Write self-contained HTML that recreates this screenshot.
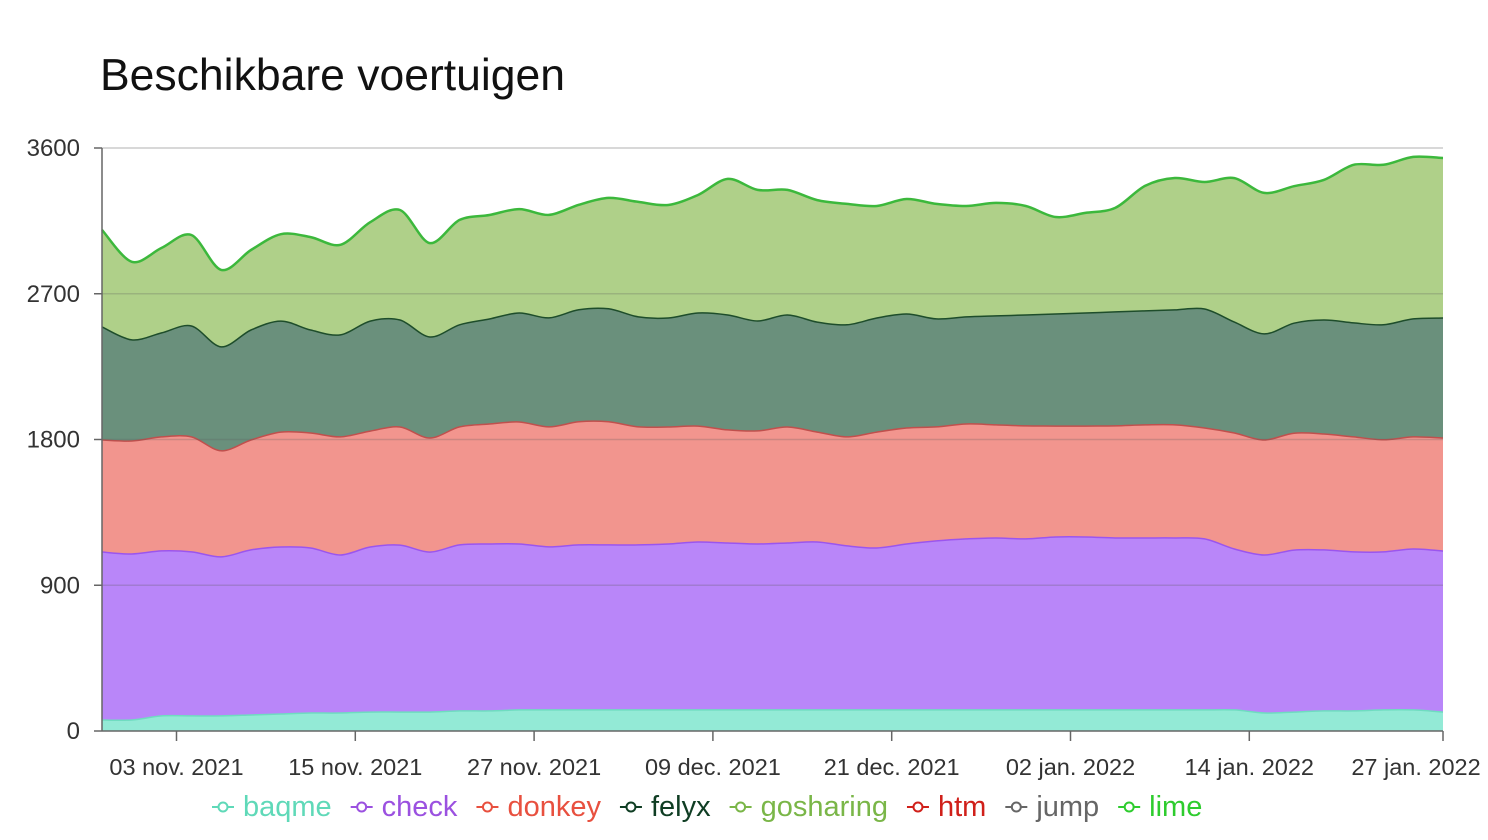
<!DOCTYPE html>
<html><head><meta charset="utf-8"><style>
body{margin:0;background:#fff;font-family:"Liberation Sans",sans-serif}
</style></head><body>
<svg id="chart" width="1488" height="835" viewBox="0 0 1488 835" xmlns="http://www.w3.org/2000/svg" font-family="Liberation Sans, sans-serif">
<text x="100" y="90" font-size="44.5" fill="#111">Beschikbare voertuigen</text>
<g id="areas"></g>
<g id="grid"></g>
<g id="axes"></g>
<g id="legend"></g>
</svg>
<script>
const seriesNames = ["baqme","check","donkey","felyx","gosharing","htm","jump","lime"];
const dayLabels = ["03 nov. 2021","15 nov. 2021","27 nov. 2021","09 dec. 2021","21 dec. 2021","02 jan. 2022","14 jan. 2022","27 jan. 2022"];
const dayTickIdx = [5,17,29,41,53,65,77,90];
const yTicks = [0,900,1800,2700,3600];
const baqme = [68,68,93,93,93,99,105,111,111,117,117,117,124,124,130,130,130,130,130,130,130,130,130,130,130,130,130,130,130,130,130,130,130,130,130,130,130,130,130,111,117,124,124,130,130,117];
const check = [1037,1025,1019,1013,982,1019,1031,1019,976,1019,1031,988,1025,1031,1025,1007,1019,1019,1019,1025,1037,1031,1025,1031,1037,1013,1000,1025,1044,1056,1062,1056,1068,1068,1062,1062,1062,1056,994,976,1000,994,982,976,994,994];
const donkey = [692,698,704,710,655,679,710,710,729,716,729,704,729,741,753,741,760,760,729,722,716,698,698,716,679,673,716,716,704,710,698,698,685,685,692,698,698,685,716,710,722,716,710,692,692,698];
const felyx = [698,624,642,685,642,679,685,636,630,679,661,624,630,648,673,673,692,698,679,673,698,710,679,692,679,692,704,704,667,661,673,685,692,698,704,704,710,735,685,655,679,704,704,710,729,741];
const gosharing = [599,482,525,562,475,494,537,574,556,611,679,580,648,642,642,636,648,685,710,698,729,840,809,772,753,747,692,710,710,685,698,673,599,618,642,772,815,784,889,871,846,865,976,988,1000,988];
const htm = new Array(46).fill(0);
const jump = new Array(46).fill(0);
const lime = new Array(46).fill(0);
const values = [baqme,check,donkey,felyx,gosharing,htm,jump,lime];
const dayStep = 2;

const fills = ["#93ead6","#b986f9","#f2958e","#6a907c","#afd089","#f2958e","#aaa","#afd089"];
const strokes = ["#6fdcc0","#9b55ee","#c0504d","#1e4d2b","#5aa03a","#d0201a","#666","#3cb83c"];
const legendColors = ["#5fd9b8","#9b51e0","#e8503f","#0f3d23","#7ab648","#d0201a","#666666","#2ecc2e"];
const X0=102,X1=1443,Y0=731,Y1=148,totalDays=90,ymax=3600;
const xs = d => X0 + (X1-X0)*d/totalDays;
const ys = v => Y0 - (Y0-Y1)*v/ymax;
const NS="http://www.w3.org/2000/svg";
function mk(tag,attrs){const e=document.createElementNS(NS,tag);for(const k in attrs)e.setAttribute(k,attrs[k]);return e;}
function curve(pts){let d="";for(let i=0;i<pts.length-1;i++){const p0=pts[Math.max(0,i-1)],p1=pts[i],p2=pts[i+1],p3=pts[Math.min(pts.length-1,i+2)];const t=0.16;const c1=[p1[0]+(p2[0]-p0[0])*t,p1[1]+(p2[1]-p0[1])*t];const c2=[p2[0]-(p3[0]-p1[0])*t,p2[1]-(p3[1]-p1[1])*t];d+=` C${c1[0].toFixed(1)},${c1[1].toFixed(1)} ${c2[0].toFixed(1)},${c2[1].toFixed(1)} ${p2[0].toFixed(1)},${p2[1].toFixed(1)}`;}return d;}
const n=baqme.length;let cum=new Array(n).fill(0);
const areas=document.getElementById("areas");
const tops=[];
values.forEach((arr,s)=>{const low=cum.slice();const high=cum.map((c,i)=>c+arr[i]);cum=high;
 const top=high.map((v,i)=>[xs(i*dayStep),ys(v)]);const bot=low.map((v,i)=>[xs(i*dayStep),ys(v)]).reverse();
 const d="M"+top[0][0]+","+top[0][1]+curve(top)+" L"+bot[0][0]+","+bot[0][1]+curve(bot)+"Z";
 if(arr.some(v=>v>0)){const a=mk("path",{d:d,fill:fills[s]});
 
 
 areas.appendChild(a);}
 tops.push(top);});
tops.forEach((top,s)=>{const l=mk("path",{d:"M"+top[0][0]+","+top[0][1]+curve(top),fill:"none",stroke:strokes[s],"stroke-width":s===7?2.5:1.5});
 
 
 areas.appendChild(l);});
const grid=document.getElementById("grid"),axes=document.getElementById("axes");
yTicks.forEach(t=>{const y=ys(t);
 if(t>0){const g=mk("line",{x1:X0,x2:X1,y1:y,y2:y,stroke:t===3600?"#ccc":"rgba(90,90,90,0.25)","stroke-width":1.5});
 
 
 grid.appendChild(g);}
 const tk=mk("line",{x1:X0-8,x2:X0,y1:y,y2:y,stroke:"#666","stroke-width":1.5});
 
 
 axes.appendChild(tk);
 const tx=mk("text",{x:80,y:y+8,"text-anchor":"end","font-size":24,fill:"#333"});tx.textContent=t;
 
 
 axes.appendChild(tx);});
const ya=mk("line",{x1:X0,x2:X0,y1:Y1,y2:Y0,stroke:"#666","stroke-width":1.5});


axes.appendChild(ya);
const xa=mk("line",{x1:X0,x2:X1,y1:Y0,y2:Y0,stroke:"#666","stroke-width":1.5});


axes.appendChild(xa);
dayLabels.forEach((lab,i)=>{const x=xs(dayTickIdx[i]);
 const tk=mk("line",{x1:x,x2:x,y1:Y0,y2:Y0+10,stroke:"#666","stroke-width":1.5});
 
 
 axes.appendChild(tk);
 const tx=mk("text",{x:i===7?Math.min(x,1416):x,y:775,"text-anchor":"middle","font-size":23.5,fill:"#333"});tx.textContent=lab;
 
 
 axes.appendChild(tx);});
const legend=document.getElementById("legend");let lx=212;
seriesNames.forEach((nm,i)=>{const g=mk("g",{});
 
 
 g.appendChild(mk("line",{x1:lx,x2:lx+22,y1:807,y2:807,stroke:legendColors[i],"stroke-width":2}));
 g.appendChild(mk("circle",{cx:lx+11,cy:807,r:4.5,fill:"#fff",stroke:legendColors[i],"stroke-width":2}));
 const t=mk("text",{x:lx+31,y:816,"font-size":29,fill:legendColors[i]});t.textContent=nm;g.appendChild(t);
 legend.appendChild(g);
 lx+=31+t.getComputedTextLength()+19;});
</script>
</body></html>
